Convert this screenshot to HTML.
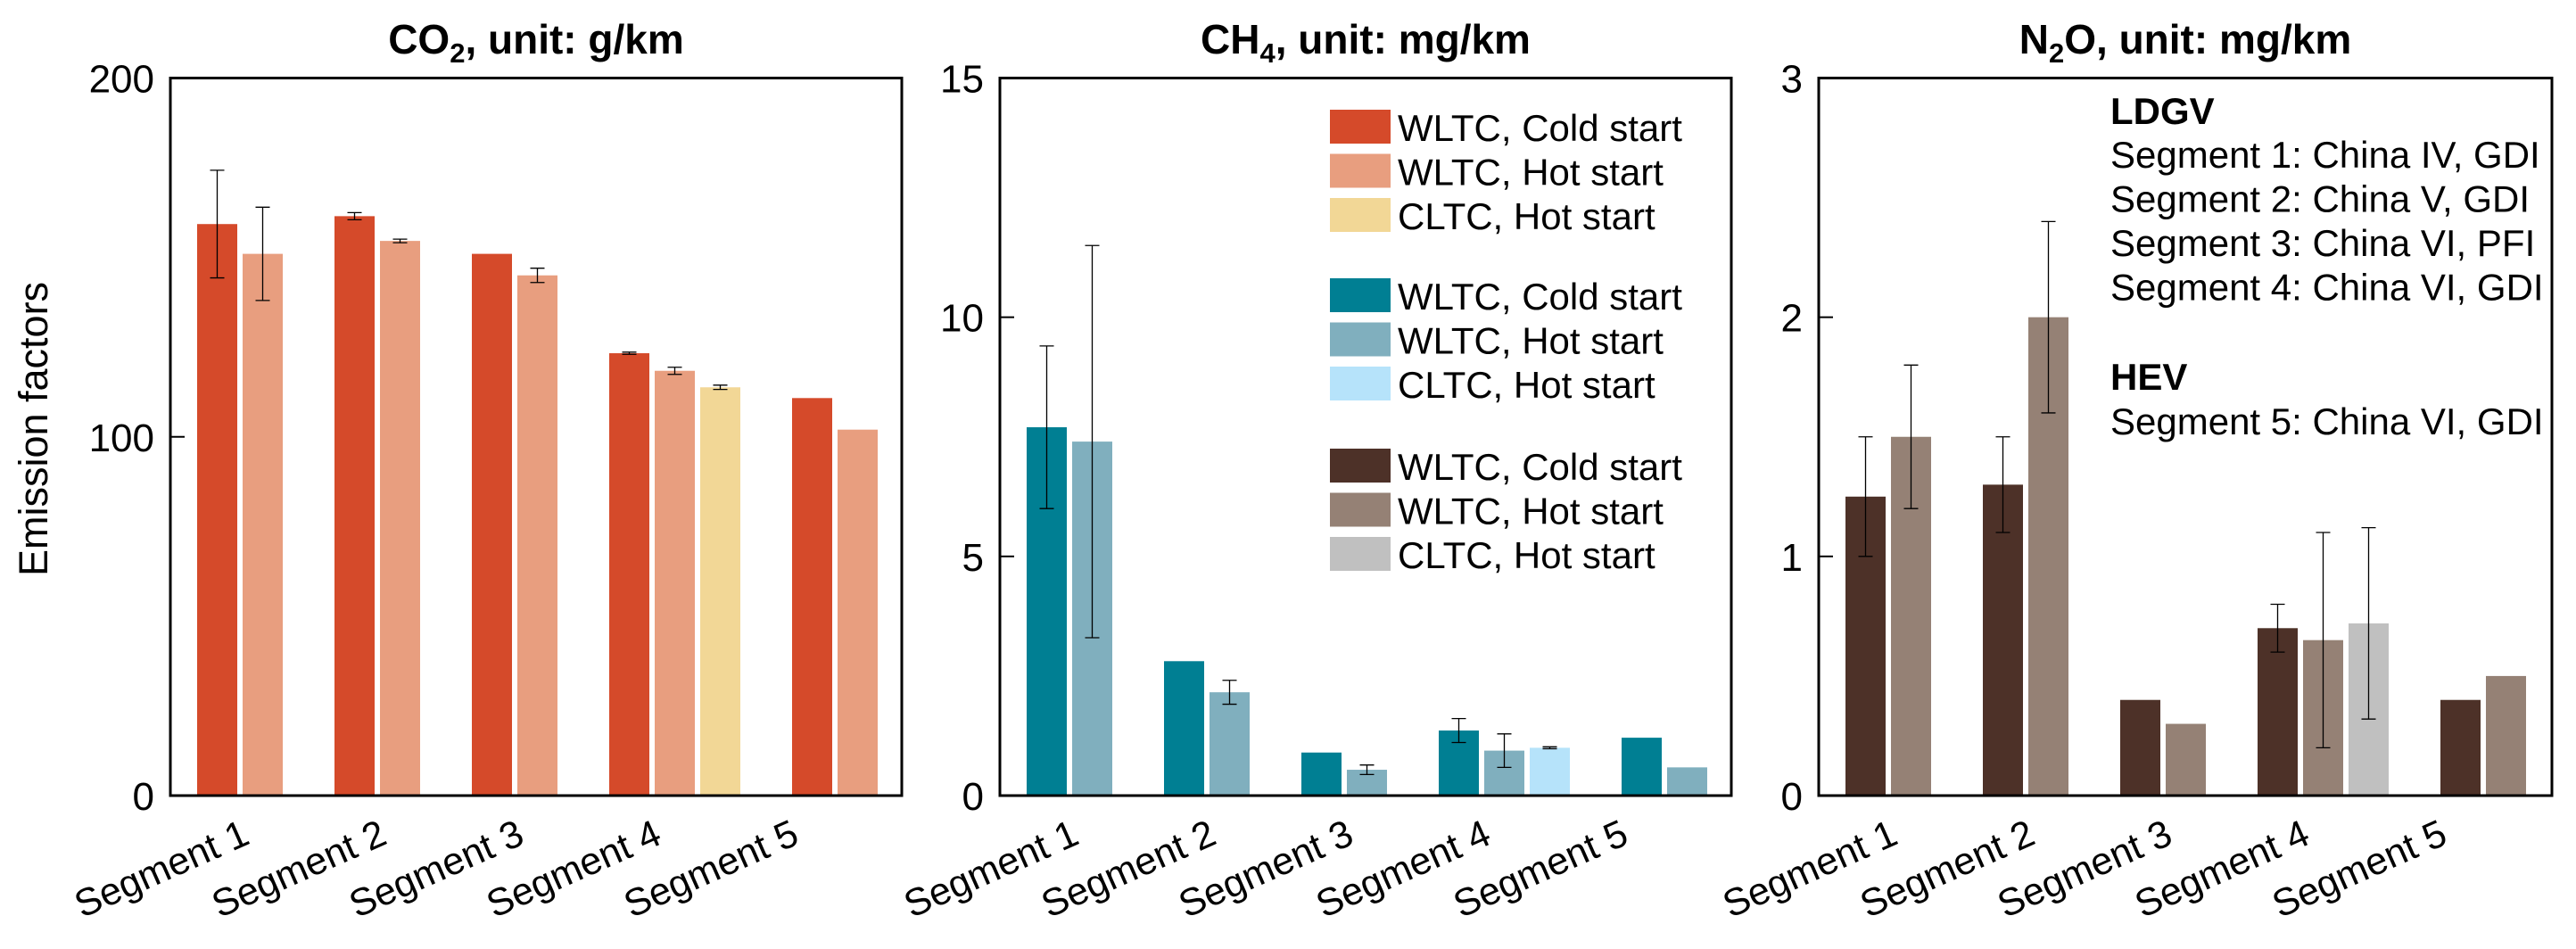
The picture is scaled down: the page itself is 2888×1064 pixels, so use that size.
<!DOCTYPE html>
<html><head><meta charset="utf-8"><style>
html,body{margin:0;padding:0;background:#fff;}
svg{display:block;font-family:"Liberation Sans",Arial,sans-serif;}
</style></head><body>
<svg id="fig" width="2888" height="1064" viewBox="0 0 2888 1064" xmlns="http://www.w3.org/2000/svg">
<text x="41" y="481" font-size="45" text-anchor="middle" transform="rotate(-90 41 481)" dominant-baseline="middle">Emission factors</text>
</svg>
<script>
const categories = ["Segment 1","Segment 2","Segment 3","Segment 4","Segment 5"];
const co2Cold = [159.3,161.5,151,123.3,110.8];
const co2ColdErr = [15,1,0,0.3,0];
const co2Hot = [151,154.6,145,118.4,102];
const co2HotErr = [13,0.5,2,1,0];
const co2Cltc = [null,null,null,113.8,null];
const co2CltcErr = [0,0,0,0.6,0];
const ch4Cold = [7.7,2.81,0.9,1.36,1.21];
const ch4ColdErr = [1.7,0,0,0.25,0];
const ch4Hot = [7.4,2.16,0.54,0.94,0.59];
const ch4HotErr = [4.1,0.25,0.1,0.35,0];
const ch4Cltc = [null,null,null,1.0,null];
const ch4CltcErr = [0,0,0,0.02,0];
const n2oCold = [1.25,1.3,0.4,0.7,0.4];
const n2oColdErr = [0.25,0.2,0,0.1,0];
const n2oHot = [1.5,2.0,0.3,0.65,0.5];
const n2oHotErr = [0.3,0.4,0,0.45,0];
const n2oCltc = [null,null,null,0.72,null];
const n2oCltcErr = [0,0,0,0.4,0];
const co2Ticks = [0,100,200];
const ch4Ticks = [0,5,10,15];
const n2oTicks = [0,1,2,3];
const legendLabels = ["WLTC, Cold start","WLTC, Hot start","CLTC, Hot start"];
const noteLines = ["Segment 1: China IV, GDI","Segment 2: China V, GDI","Segment 3: China VI, PFI","Segment 4: China VI, GDI"];

const NS="http://www.w3.org/2000/svg";
const svg=document.getElementById('fig');
function el(tag,attrs,parent){const e=document.createElementNS(NS,tag);for(const k in attrs)e.setAttribute(k,attrs[k]);(parent||svg).appendChild(e);return e;}

const yTop=87.5,yBottom=892;
function panel(key,left,right,ymax,ticks,series,errs,colors,titleMain,titleSub,titleRest){
  const g=el('g',{});
  
  
  const y=v=>yBottom-(v/ymax)*(yBottom-yTop);
  const slot=51, barW=45, grpStep=154, x0=left+30;
  const xs=(i,s)=>x0+i*grpStep+(i===4?slot:0)+s*slot;
  series.forEach((arr,s)=>{
    arr.forEach((v,i)=>{
      if(v===null)return;
      const x=xs(i,s);
      const r=el('rect',{x:x,y:y(v),width:barW,height:yBottom-y(v),fill:colors[s]},g);
      
      
      const e=errs[s][i];
      if(e>0){
        const cx=x+barW/2;
        const eb=el('path',{d:`M${cx},${y(v+e)}V${y(v-e)}M${cx-8},${y(v+e)}H${cx+8}M${cx-8},${y(v-e)}H${cx+8}`,stroke:'#000','stroke-width':1.3,fill:'none'},g);
        
        
      }
    });
  });
  const fr=el('rect',{x:left,y:yTop,width:right-left,height:yBottom-yTop,fill:'none',stroke:'#000','stroke-width':3},g);
  
  
  ticks.forEach(t=>{
    const ty=y(t);
    const tk=el('line',{x1:left,x2:left+16,y1:ty,y2:ty,stroke:'#000','stroke-width':2},g);
    
    
    const tl=el('text',{x:left-18,y:ty+16,'font-size':44,'text-anchor':'end'},g);
    tl.textContent=t;
    
    
  });
  categories.forEach((c,i)=>{
    const cx=x0+i*grpStep+76-15, cy=945;
    const t=el('text',{x:cx,y:cy,'font-size':43,'text-anchor':'end',transform:`rotate(-24 ${cx} ${cy})`},g);
    t.textContent=c;
    
    
  });
  const tt=el('text',{x:(left+right)/2,y:60,'font-size':46,'font-weight':'bold','text-anchor':'middle'},g);
  
  
  const a=document.createElementNS(NS,'tspan');a.textContent=titleMain;tt.appendChild(a);
  const b=document.createElementNS(NS,'tspan');b.setAttribute('font-size','31');b.setAttribute('dy','10');b.textContent=titleSub;tt.appendChild(b);
  const c=document.createElementNS(NS,'tspan');c.setAttribute('dy','-10');c.textContent=titleRest;tt.appendChild(c);
  return g;
}
panel('co2',191,1011,200,co2Ticks,[co2Cold,co2Hot,co2Cltc],[co2ColdErr,co2HotErr,co2CltcErr],['#d54a2a','#e89e7f','#f2d796'],'CO','2',', unit: g/km');
panel('ch4',1121,1941,15,ch4Ticks,[ch4Cold,ch4Hot,ch4Cltc],[ch4ColdErr,ch4HotErr,ch4CltcErr],['#007f93','#80afbe','#b6e3fa'],'CH','4',', unit: mg/km');
panel('n2o',2039,2861,3,n2oTicks,[n2oCold,n2oHot,n2oCltc],[n2oColdErr,n2oHotErr,n2oCltcErr],['#4d3128','#958175','#c0c0c0'],'N','2','O, unit: mg/km');

const legColors=[['#d54a2a','#e89e7f','#f2d796'],['#007f93','#80afbe','#b6e3fa'],['#4d3128','#958175','#c0c0c0']];
const groupTops=[123,312,503];
legColors.forEach((cols,gi)=>{
  cols.forEach((col,ri)=>{
    const yy=groupTops[gi]+ri*49.5;
    const sw=el('rect',{x:1491,y:yy,width:68,height:38,fill:col});
    
    
    const t=el('text',{x:1567,y:yy+35,'font-size':42});
    t.textContent=legendLabels[ri];
    
    
  });
});
const h1=el('text',{x:2366,y:139,'font-size':42,'font-weight':'bold'});
h1.textContent='LDGV';


noteLines.forEach((s,i)=>{
  const t=el('text',{x:2366,y:188+i*49.5,'font-size':42});
  t.textContent=s;
  
  
});
const h2=el('text',{x:2366,y:437,'font-size':42,'font-weight':'bold'});
h2.textContent='HEV';


const n5=el('text',{x:2366,y:487,'font-size':42});
n5.textContent='Segment 5: China VI, GDI';


</script>
</body></html>
